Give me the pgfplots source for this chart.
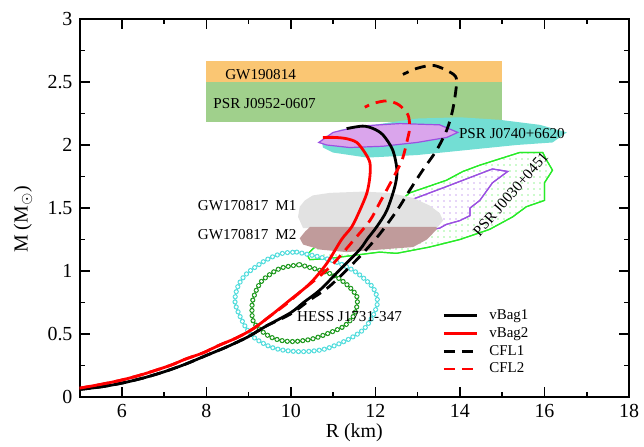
\documentclass[border=0pt]{standalone}
\usepackage{fontspec}
\setmainfont{Liberation Serif}
\usepackage{pgfplots}
\pgfplotsset{compat=1.18}
\usetikzlibrary{patterns,patterns.meta}
\definecolor{bandorange}{RGB}{250,198,115}
\definecolor{bandgreen}{RGB}{160,208,140}
\definecolor{jcyan}{RGB}{115,222,212}
\definecolor{jpurplefill}{RGB}{218,165,236}
\definecolor{jpurple}{RGB}{155,80,225}
\definecolor{jgreen}{RGB}{40,235,40}
\definecolor{gwgray}{RGB}{226,226,226}
\definecolor{gwbrown}{RGB}{192,155,155}
\definecolor{hesscyan}{RGB}{80,220,220}
\definecolor{hessgreen}{RGB}{25,150,25}
\tikzset{lbl/.style={inner sep=0pt, font=\fontsize{7.6}{9}\selectfont}}
\pgfplotstableread{
R M
10.14 1.15
10.92 1.09
11.5 1.00
11.94 0.87
12.05 0.75
11.92 0.63
11.7 0.53
11.32 0.45
10.8 0.38
10.29 0.36
9.85 0.37
9.50 0.40
9.1 0.48
8.87 0.59
8.68 0.75
8.75 0.88
8.96 0.98
9.43 1.09
9.8 1.14
10.14 1.15
}\hessouter
\pgfplotstableread{
R M
10.21 1.05
10.92 0.98
11.3 0.90
11.56 0.80
11.55 0.70
11.46 0.63
11.25 0.56
10.92 0.51
10.5 0.46
10.06 0.44
9.75 0.45
9.50 0.48
9.25 0.54
9.10 0.61
9.08 0.70
9.10 0.77
9.2 0.86
9.34 0.93
9.74 1.02
10.21 1.05
}\hessinner
\begin{document}
\begin{tikzpicture}
\begin{axis}[
  at={(0,0)}, anchor=south west,
  scale only axis, width=274.75bp, height=189bp,
  xmin=5, xmax=18, ymin=0, ymax=3,
  xtick={6,8,...,18}, minor xtick={5,7,...,17},
  ytick={0,0.5,...,3}, minor ytick={0.25,0.75,...,2.75},
  tick align=inside,
  major tick length=5bp, minor tick length=2.5bp,
  axis line style={line width=1bp},
  every tick/.style={line width=0.8bp, black},
  /pgf/number format/assume math mode=true,
  tick label style={font=\fontsize{10}{12}\selectfont},
  label style={font=\fontsize{10}{12}\selectfont},
  xlabel={R (km)}, ylabel={M (M\textsubscript{$\odot$})},
  xlabel style={at={(axis description cs:0.5,0)}, anchor=center, yshift=-18bp},
  ylabel style={at={(axis description cs:-0.1028,0.47)}, anchor=center},
  legend cell align=left,
  legend image code/.code={\draw[#1] (0bp,0bp) -- (16.5bp,0bp);},
  legend style={draw=none, fill=none, at={(axis cs:13.59,0.70)}, anchor=north west,
    inner sep=0pt, outer sep=0pt, row sep=1.85bp, column sep=5.5bp,
    font=\fontsize{7.5}{9}\selectfont,
    nodes={inner sep=0pt, text height=5.5bp, text depth=1.5bp}},
]
% bands
\addplot[forget plot, draw=none, fill=bandgreen] coordinates {(8,2.18)(15,2.18)(15,2.52)(8,2.52)} -- cycle;
\addplot[forget plot, draw=none, fill=bandorange] coordinates {(8,2.50)(15,2.50)(15,2.67)(8,2.67)} -- cycle;
% PSR J0740+6620
\addplot[forget plot, draw=none, fill=jcyan] coordinates {
(10.73,2.03)(11.16,2.12)(12.17,2.17)(12.98,2.21)(14.0,2.22)(14.94,2.20)(15.89,2.16)(16.53,2.10)
(16.19,2.02)(15.34,2.00)(14.16,1.96)(12.98,1.92)(11.80,1.90)(11.0,1.94)(10.76,1.98)} -- cycle;
\addplot[forget plot, draw=jpurple, line width=0.6bp, fill=jpurplefill] coordinates {
(10.66,2.02)(11.0,2.10)(11.63,2.15)(12.58,2.17)(13.52,2.16)(13.95,2.10)(13.69,2.06)
(12.98,2.02)(12.17,1.99)(11.39,1.98)(10.85,2.0)} -- cycle;
% PSR J0030+0451
\addplot[forget plot, draw=jgreen, line width=0.6bp, fill=white, postaction={pattern={Dots[distance=3bp,radius=0.35bp]}, pattern color=jgreen}] coordinates {
(12.81,1.62)(13.68,1.72)(14.07,1.79)(14.47,1.84)(15.41,1.94)(15.96,1.94)(16.05,1.88)(16.19,1.80)
(16.0,1.70)(16.0,1.56)(15.57,1.51)(15.25,1.43)(14.7,1.33)(14.0,1.25)(13.28,1.19)(12.5,1.14)
(12.1,1.15)(10.92,1.10)(10.45,1.09)(10.38,1.13)(10.6,1.20)(11.5,1.30)(12.2,1.45)} -- cycle;
\addplot[forget plot, draw=jpurple, line width=0.6bp, fill=white, postaction={pattern={Dots[distance=3bp,radius=0.35bp]}, pattern color=jpurple}] coordinates {
(12.81,1.56)(13.68,1.67)(14.77,1.81)(15.13,1.79)(14.77,1.70)(14.47,1.56)(14.24,1.50)(14.24,1.44)
(14.0,1.40)(13.68,1.37)(13.52,1.34)(12.8,1.30)(12.6,1.45)} -- cycle;
% GW170817
\addplot[forget plot, draw=none, fill=gwgray] coordinates {
(10.21,1.51)(10.33,1.56)(10.52,1.60)(10.92,1.62)(11.70,1.63)(12.34,1.62)(12.89,1.58)(13.28,1.52)
(13.52,1.46)(13.6,1.40)(13.45,1.34)(10.29,1.34)(10.17,1.43)} -- cycle;
\addplot[forget plot, draw=none, fill=gwbrown] coordinates {
(10.45,1.35)(13.45,1.35)(13.45,1.33)(13.22,1.25)(12.89,1.19)(12.1,1.17)(11.32,1.15)(10.69,1.17)
(10.29,1.21)(10.21,1.26)(10.33,1.31)} -- cycle;
% HESS J1731-347 rings (open circles along the contour)
\addplot[forget plot, smooth, hesscyan, line width=2.6bp, line cap=round, dash pattern=on 0pt off 2.6bp] table[x=R,y=M] {\hessouter};
\addplot[forget plot, smooth, white, line width=1.6bp, line cap=round, dash pattern=on 0pt off 2.6bp] table[x=R,y=M] {\hessouter};
\addplot[forget plot, smooth, hessgreen, line width=2.6bp, line cap=round, dash pattern=on 0pt off 2.6bp] table[x=R,y=M] {\hessinner};
\addplot[forget plot, smooth, white, line width=1.6bp, line cap=round, dash pattern=on 0pt off 2.6bp] table[x=R,y=M] {\hessinner};
% labels
\node[lbl, anchor=west] at (axis cs:8.44,2.555) {GW190814};
\node[lbl, anchor=west] at (axis cs:8.16,2.33) {PSR J0952-0607};
\node[lbl, anchor=west] at (axis cs:13.97,2.09) {PSR J0740+6620};
\node[lbl, rotate=49] at (axis cs:15.20,1.61) {PSR J0030+0451};
\node[lbl, anchor=east] at (axis cs:10.14,1.52) {GW170817\hspace{0.45em}M1};
\node[lbl, anchor=east] at (axis cs:10.14,1.29) {GW170817\hspace{0.45em}M2};
\node[lbl, anchor=west] at (axis cs:10.14,0.64) {HESS J1731-347};
% curves
\addplot[black, line width=1.4bp, smooth, tension=0.5] coordinates {
(5.0,0.06)(5.5,0.08)(6.0,0.11)(6.5,0.15)(7.0,0.20)(7.5,0.26)(8.0,0.33)(8.5,0.40)(9.0,0.48)
(9.4,0.56)(10.0,0.67)(10.3,0.75)(10.69,0.85)(11.16,1.01)(11.63,1.17)(11.80,1.25)(12.03,1.35)
(12.27,1.48)(12.46,1.67)(12.51,1.80)(12.41,1.96)(12.18,2.08)(11.95,2.13)(11.70,2.15)(11.32,2.13)};
\addlegendentry{vBag1}
\addplot[red, line width=1.4bp, smooth, tension=0.5] coordinates {
(5.0,0.07)(5.5,0.10)(6.0,0.135)(6.5,0.18)(7.14,0.25)(7.5,0.30)(7.92,0.35)(8.3,0.41)(8.72,0.47)
(9.1,0.54)(9.5,0.64)(9.98,0.77)(10.45,0.90)(10.85,1.06)(11.20,1.25)(11.44,1.35)(11.63,1.48)
(11.80,1.62)(11.87,1.75)(11.87,1.86)(11.75,1.94)(11.56,2.02)(11.32,2.05)(11.05,2.06)(10.76,2.06)};
\addlegendentry{vBag2}
\addplot[black, line width=1.4bp, smooth, tension=0.5, dash pattern=on 5.5bp off 3.5bp] coordinates {
(5.0,0.06)(5.5,0.08)(6.0,0.11)(6.5,0.15)(7.0,0.20)(7.5,0.26)(8.0,0.33)(8.5,0.40)(9.0,0.48)
(9.4,0.56)(10.0,0.66)(10.45,0.77)(10.92,0.88)(11.56,1.09)(12.07,1.28)(12.51,1.48)(12.81,1.64)
(13.12,1.80)(13.45,1.96)(13.69,2.12)(13.83,2.28)(13.92,2.49)(13.85,2.56)(13.4,2.63)(13.0,2.61)(12.65,2.56)};
\addlegendentry{CFL1}
\addplot[red, line width=1.4bp, smooth, tension=0.5, dash pattern=on 5.5bp off 3.5bp] coordinates {
(5.0,0.07)(5.5,0.10)(6.0,0.135)(6.5,0.18)(7.14,0.25)(7.5,0.30)(7.92,0.35)(8.3,0.41)(8.72,0.47)
(9.1,0.54)(9.5,0.64)(9.9,0.74)(10.21,0.83)(10.92,1.03)(11.5,1.25)(11.87,1.40)(12.10,1.54)
(12.39,1.72)(12.63,1.88)(12.77,2.06)(12.81,2.14)(12.77,2.24)(12.55,2.32)(12.27,2.35)(11.95,2.33)(11.75,2.30)};
\addlegendentry{CFL2}
\end{axis}
\pgfresetboundingbox
\useasboundingbox (-39.75bp,-25bp) rectangle (282.25bp,198.5bp);
\end{tikzpicture}
\end{document}
